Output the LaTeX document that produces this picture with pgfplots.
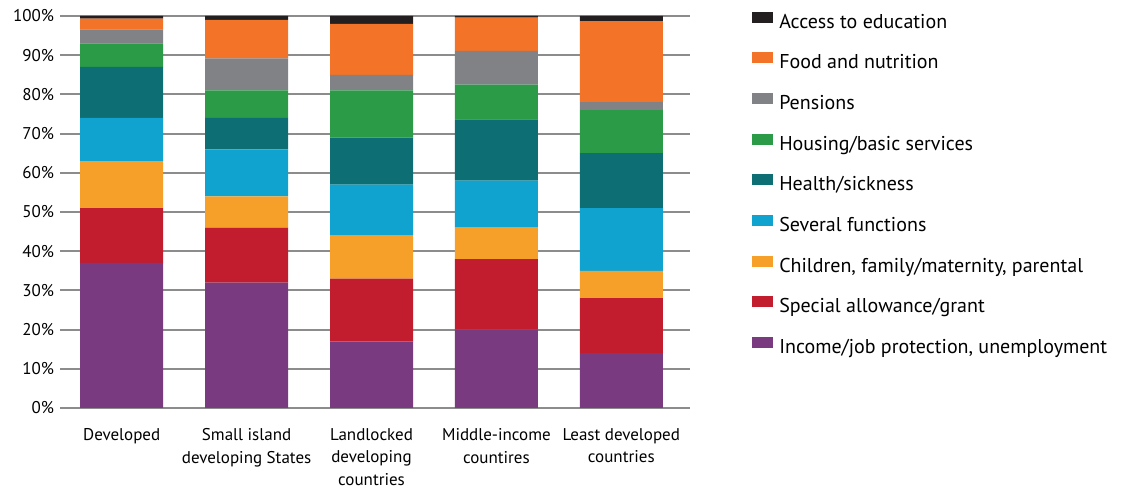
\documentclass[border=0pt]{standalone}
\usepackage{fontspec}
\setmainfont{PT Sans}
\usepackage{pgfplots}
\pgfplotsset{compat=1.18}
\definecolor{cEdu}{HTML}{231F20}
\definecolor{cFood}{HTML}{F37329}
\definecolor{cPens}{HTML}{808285}
\definecolor{cHouse}{HTML}{2B9B48}
\definecolor{cHealth}{HTML}{0D6E73}
\definecolor{cSev}{HTML}{10A3D0}
\definecolor{cChild}{HTML}{F6A02A}
\definecolor{cSpec}{HTML}{C11D2F}
\definecolor{cInc}{HTML}{7A3A7F}
\begin{document}
\begin{tikzpicture}
\begin{axis}[name=ax, scale only axis, width=472.5pt, height=294pt,
  ybar stacked, bar width=62.25pt,
  xmin=-0.494, xmax=4.55, ymin=0, ymax=100,
  xtick={0,1,2,3,4},
  xticklabels={Developed, Small island\\developing States, Landlocked\\developing\\countries, Middle-income\\countires, Least developed\\countries},
  xticklabel style={align=center, font=\fontsize{12.75}{16.75}\selectfont, yshift=-12pt},
  ytick={0,10,...,100},
  yticklabel={\pgfmathprintnumber{\tick}\%},
  /pgf/number format/assume math mode=true,
  yticklabel style={font=\fontsize{12.75}{15}\selectfont, xshift=-1pt},
  ymajorgrids, grid style={color=black!45, line width=1.4pt},
  axis line style={draw=none}, major tick length=0pt,
  reverse legend,
  legend cell align=left,
  legend style={at={(1,1)}, anchor=north west, xshift=46pt, yshift=3.5pt, draw=none, fill=none,
    font=\fontsize{15}{18}\selectfont, row sep=15pt, inner sep=0pt,
    nodes={inner sep=0pt, text height=10.5pt, text depth=3pt},
    /tikz/every odd column/.append style={column sep=5pt}},
  legend image code/.code={\fill[#1] (0pt,0.5pt) rectangle (15.75pt,8.75pt);},
]
\addplot[fill=cInc, draw=none] coordinates {(0,37) (1,32) (2,17) (3,20) (4,14)};
\addlegendentry{Income/job protection, unemployment}
\addplot[fill=cSpec, draw=none] coordinates {(0,14) (1,14) (2,16) (3,18) (4,14)};
\addlegendentry{Special allowance/grant}
\addplot[fill=cChild, draw=none] coordinates {(0,12) (1,8) (2,11) (3,8) (4,7)};
\addlegendentry{Children, family/maternity, parental}
\addplot[fill=cSev, draw=none] coordinates {(0,11) (1,12) (2,13) (3,12) (4,16)};
\addlegendentry{Several functions}
\addplot[fill=cHealth, draw=none] coordinates {(0,13) (1,8) (2,12) (3,15.6) (4,14)};
\addlegendentry{Health/sickness}
\addplot[fill=cHouse, draw=none] coordinates {(0,6) (1,7) (2,12) (3,8.9) (4,11)};
\addlegendentry{Housing/basic services}
\addplot[fill=cPens, draw=none] coordinates {(0,3.6) (1,8.2) (2,4) (3,8.6) (4,2)};
\addlegendentry{Pensions}
\addplot[fill=cFood, draw=none] coordinates {(0,2.7) (1,9.8) (2,13) (3,8.5) (4,20.7)};
\addlegendentry{Food and nutrition}
\addplot[fill=cEdu, draw=none] coordinates {(0,0.7) (1,1.0) (2,2) (3,0.4) (4,1.3)};
\addlegendentry{Access to education}
\end{axis}
\pgfresetboundingbox
\path ([xshift=-45pt,yshift=-60.75pt]ax.south west) rectangle ([xshift=798.75pt,yshift=306pt]ax.south west);
\end{tikzpicture}
\end{document}
